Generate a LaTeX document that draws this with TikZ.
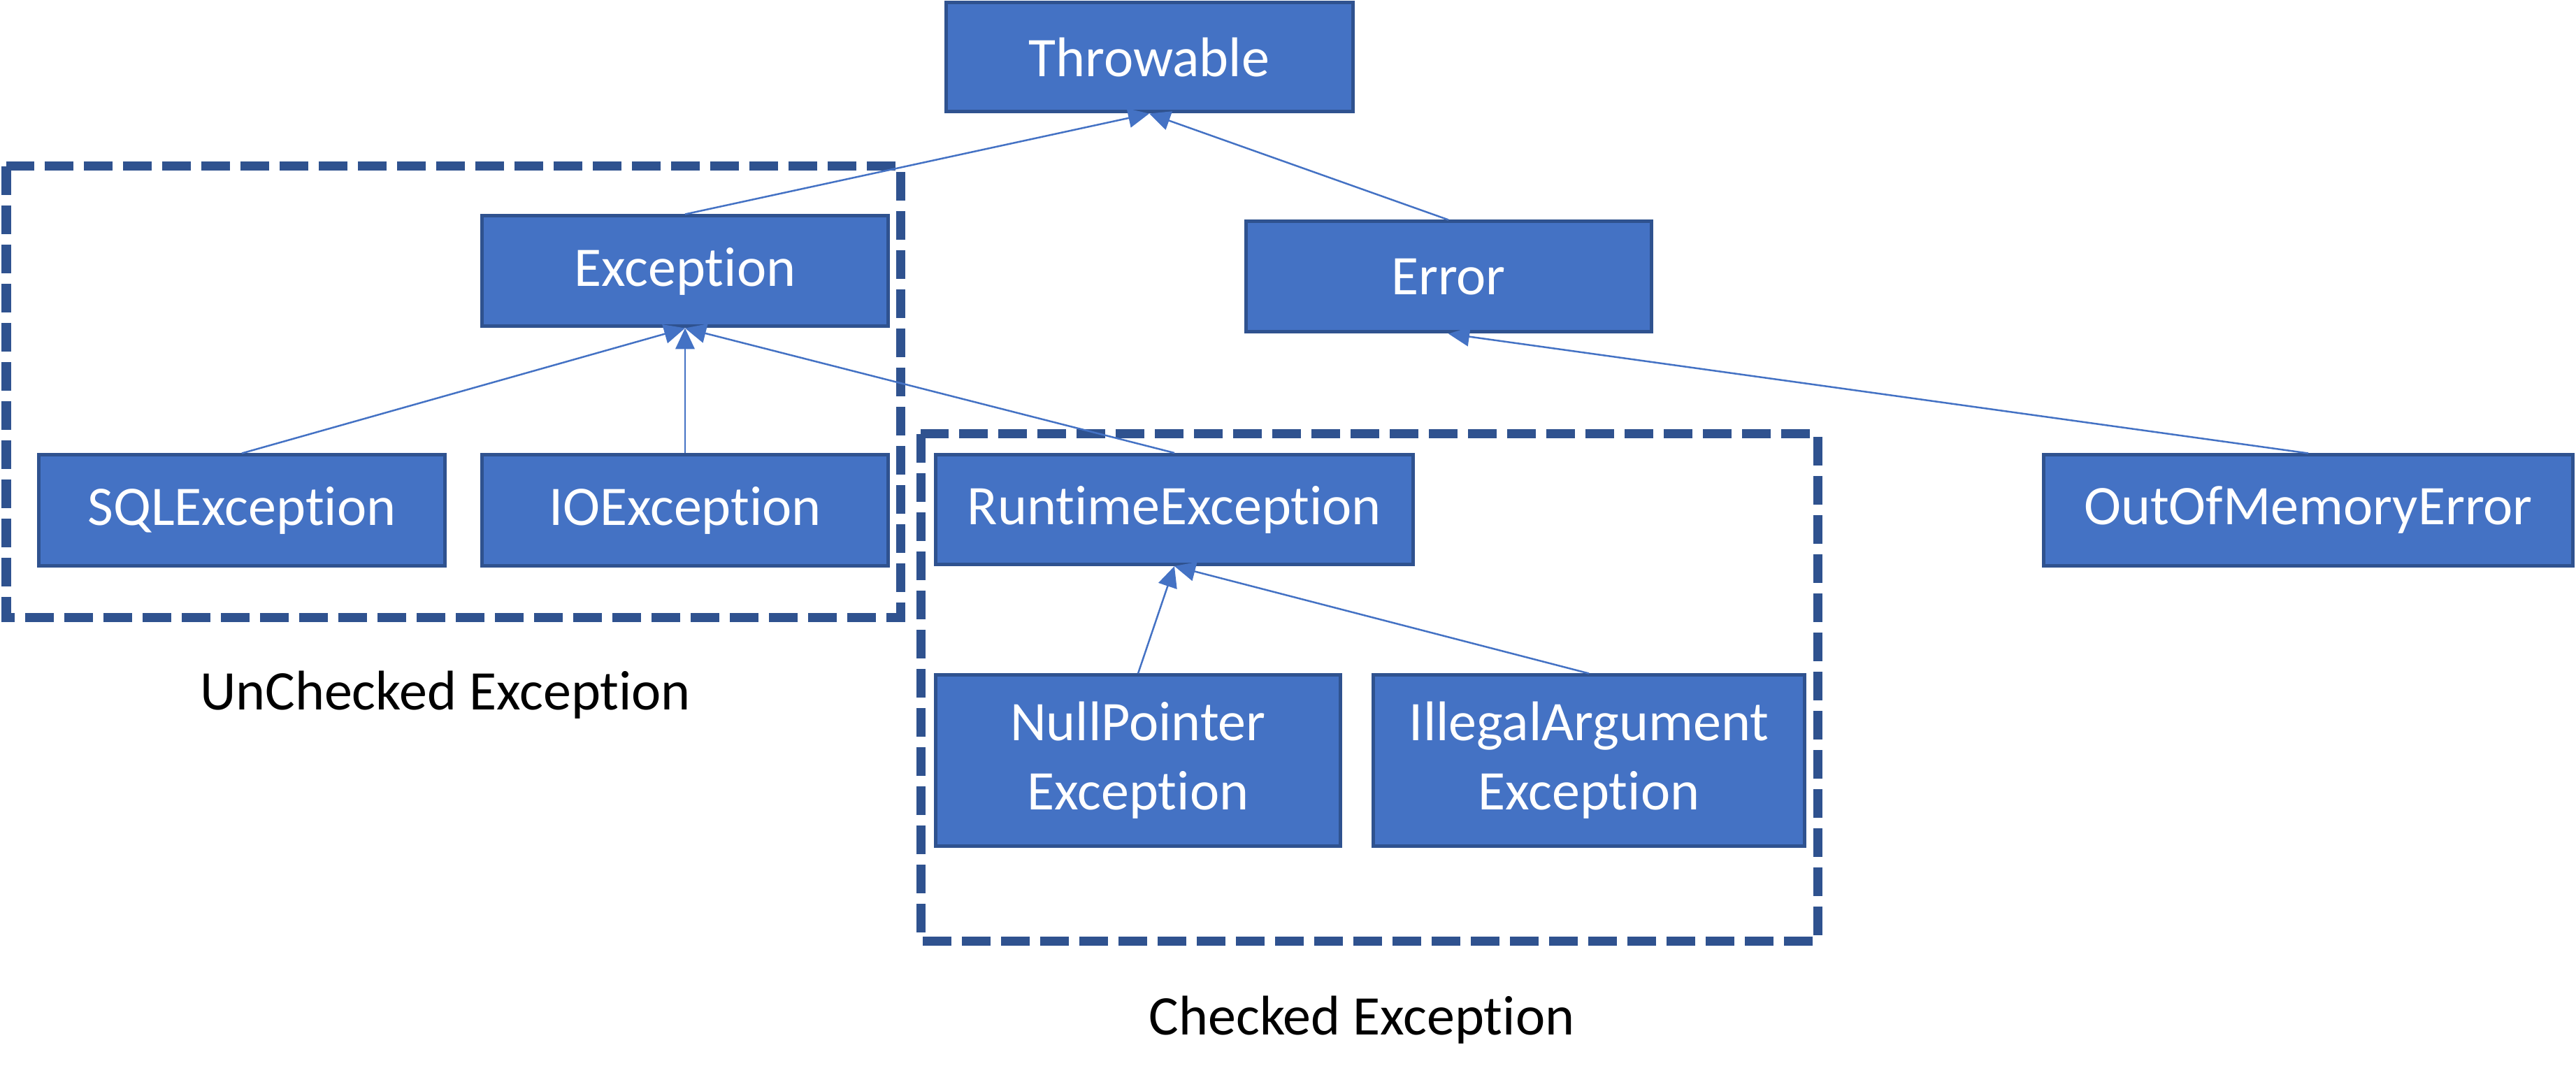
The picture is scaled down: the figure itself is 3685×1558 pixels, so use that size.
\documentclass[tikz,border=0pt]{standalone}
\usepackage{fontspec}
\setmainfont{Carlito}[RawFeature={-liga}]
\usetikzlibrary{arrows.meta}
\definecolor{boxfill}{HTML}{4472C4}
\definecolor{boxline}{HTML}{2F528F}
\begin{document}
\begin{tikzpicture}[x=0.2pt,y=-0.2pt,
  cls/.style={draw=boxline, fill=boxfill, line width=1pt, text=white,
    font=\fontsize{16}{19.8}\selectfont, inner sep=0pt, align=center},
  inh/.style={draw=boxfill, line width=0.5pt, -{Triangle[length=6pt,width=5.5pt]}},
  grp/.style={draw=boxline, line width=2.6pt, dash pattern=on 8.2pt off 3pt},
  lbl/.style={font=\fontsize{16}{19.8}\selectfont, text=black}]
\useasboundingbox (0,0) rectangle (3685,1558);
% group frames
\draw[grp] (9,238) rectangle (1288,883);
\draw[grp] (1317,621) rectangle (2600,1346);
% classes
\node[cls, minimum width=116.4pt, minimum height=31.2pt] (thr) at (1644,82) {Throwable};
\node[cls, minimum width=116.2pt, minimum height=31.6pt] (exc) at (980,388) {Exception};
\node[cls, minimum width=116pt, minimum height=31.6pt] (err) at (2072,396) {Error};
\node[cls, minimum width=116.2pt, minimum height=31.6pt] (sql) at (346,730) {SQLException};
\node[cls, minimum width=116.2pt, minimum height=31.6pt] (io) at (980,730) {IOException};
\node[cls, minimum width=136.6pt, minimum height=31.4pt] (rt) at (1680,729) {RuntimeException};
\node[cls, minimum width=151.4pt, minimum height=31.6pt] (oom) at (3302,730) {OutOfMemoryError};
\node[cls, minimum width=115.8pt, minimum height=48.8pt] (npe) at (1628,1088) {NullPointer\\Exception};
\node[cls, minimum width=123.4pt, minimum height=48.8pt] (iae) at (2273,1088) {IllegalArgument\\Exception};
% labels
\node[lbl] (unc) at (637,994) {UnChecked Exception};
\node[lbl] (chk) at (1948,1459) {Checked Exception};
% inheritance connectors
\draw[inh] (exc.north) -- (thr.south);
\draw[inh] (err.north) -- (thr.south);
\draw[inh] (sql.north) -- (exc.south);
\draw[inh] (io.north) -- (exc.south);
\draw[inh] (rt.north) -- (exc.south);
\draw[inh] (npe.north) -- (rt.south);
\draw[inh] (iae.north) -- (rt.south);
\draw[inh] (oom.north) -- (err.south);
\end{tikzpicture}
\end{document}
